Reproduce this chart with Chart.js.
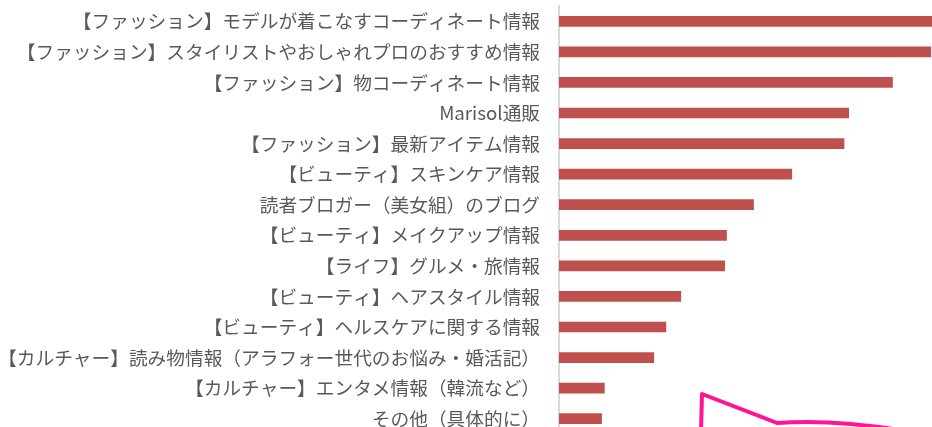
<!DOCTYPE html>
<html lang="ja">
<head>
<meta charset="utf-8">
<title>情報ランキング</title>
<script src="https://cdn.jsdelivr.net/npm/chart.js@4/dist/chart.umd.min.js"></script>
<style>
  html, body { margin: 0; padding: 0; background: #fff; overflow: hidden; }
  .chart-container { position: relative; width: 932px; height: 440px; }
  .pen-mark { position: absolute; left: 0; top: 0; pointer-events: none; }
</style>
</head>
<body>
<div class="chart-container">
  <canvas id="infoBarChart"></canvas>
  <!-- hand drawn pink stroke that sits over the lower right of the picture -->
  <svg class="pen-mark" width="932" height="440">
    <path d="M701,432 L702,394 L777,423 Q830,419 900,430" fill="none" stroke="#FF1493" stroke-width="4" stroke-linejoin="round" stroke-linecap="round"/>
  </svg>
</div>
<script>
const categories = [
  '【ファッション】モデルが着こなすコーディネート情報',
  '【ファッション】スタイリストやおしゃれプロのおすすめ情報',
  '【ファッション】物コーディネート情報',
  'Marisol通販',
  '【ファッション】最新アイテム情報',
  '【ビューティ】スキンケア情報',
  '読者ブロガー（美女組）のブログ',
  '【ビューティ】メイクアップ情報',
  '【ライフ】グルメ・旅情報',
  '【ビューティ】ヘアスタイル情報',
  '【ビューティ】ヘルスケアに関する情報',
  '【カルチャー】読み物情報（アラフォー世代のお悩み・婚活記）',
  '【カルチャー】エンタメ情報（韓流など）',
  'その他（具体的に）'
];

// values (first bar runs past the right edge)
const values = [42, 39.9, 35.8, 31.1, 30.6, 25.0, 20.9, 18.0, 17.8, 13.1, 11.5, 10.2, 4.9, 4.6];

const xMin = 0;
const xMax = 40;

const ctx = document.getElementById('infoBarChart').getContext('2d');
new Chart(ctx, {
  type: 'bar',
  data: {
    labels: categories,
    datasets: [
      {
        data: values,
        backgroundColor: '#C0504D',
        borderWidth: 0,
        categoryPercentage: 1,
        barPercentage: 0.35
      }
    ]
  },
  options: {
    indexAxis: 'y',
    responsive: true,
    maintainAspectRatio: false,
    animation: false,
    layout: {
      padding: { top: 6, bottom: 6, left: 0, right: 0 }
    },
    plugins: {
      legend: { display: false },
      tooltip: { enabled: false }
    },
    scales: {
      x: {
        display: false,
        min: xMin,
        max: xMax
      },
      y: {
        afterFit: (scale) => {
          // fixed label column, and no extra room above/below the first/last label
          scale.width = 559;
          scale.paddingTop = 0;
          scale.paddingBottom = 0;
        },
        grid: { display: false, drawTicks: false },
        border: { display: true, color: '#D9D9D9', width: 2 },
        ticks: {
          padding: 19,
          color: '#595959',
          autoSkip: false,
          font: { family: '"Noto Sans CJK JP", "Noto Sans", sans-serif', size: 18.7 }
        }
      }
    }
  }
});
</script>
</body>
</html>
